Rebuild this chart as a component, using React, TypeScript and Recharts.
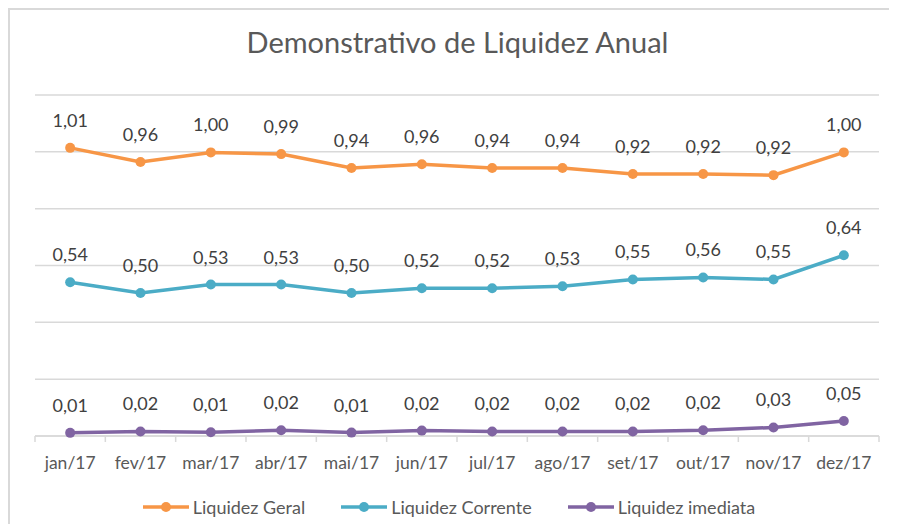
import React from 'react';
import { LineChart, Line, XAxis, YAxis, CartesianGrid, Legend, LabelList } from 'recharts';

const months = ['jan/17', 'fev/17', 'mar/17', 'abr/17', 'mai/17', 'jun/17', 'jul/17', 'ago/17', 'set/17', 'out/17', 'nov/17', 'dez/17'];
const liquidezGeral = [1.014, 0.964, 0.998, 0.992, 0.943, 0.956, 0.943, 0.943, 0.922, 0.922, 0.918, 0.998];
const liquidezCorrente = [0.541, 0.503, 0.533, 0.533, 0.503, 0.52, 0.52, 0.527, 0.551, 0.558, 0.551, 0.636];
const liquidezImediata = [0.011, 0.016, 0.013, 0.02, 0.012, 0.019, 0.016, 0.016, 0.016, 0.02, 0.03, 0.053];
const yTicks = [0, 0.2, 0.4, 0.6, 0.8, 1.0, 1.2];

const seriesInfo = [
  { key: 'geral', name: 'Liquidez Geral', color: '#F79646' },
  { key: 'corrente', name: 'Liquidez Corrente', color: '#4BACC6' },
  { key: 'imediata', name: 'Liquidez imediata', color: '#8064A2' },
];

const data = months.map((m, i) => ({
  month: m,
  geral: liquidezGeral[i],
  corrente: liquidezCorrente[i],
  imediata: liquidezImediata[i],
}));

const W = 887;
const H = 514;
const PLOT_RIGHT = 869;
const M = { top: 85, right: W - PLOT_RIGHT, left: 25, bottom: 2 };
const BAND = (PLOT_RIGHT - M.left) / months.length;
const FONT = 'Lato, "Open Sans", sans-serif';
const TEXT = '#595959';

const fmt = (v: any) => Number(v).toFixed(2).replace('.', ',');

const Tick = (props: any) => {
  const { x, y, payload, index } = props;
  const isLast = index === months.length - 1;
  return (
    <g>
      <line x1={x - BAND / 2} y1={y} x2={x - BAND / 2} y2={y + 6} stroke="#d9d9d9" strokeWidth={1.5} />
      {isLast && <line x1={x + BAND / 2} y1={y} x2={x + BAND / 2} y2={y + 6} stroke="#d9d9d9" strokeWidth={1.5} />}
      <text x={x} y={y + 26} textAnchor="middle" dominantBaseline="central" fill={TEXT} fontSize={17.5} fontFamily={FONT}>
        {payload.value}
      </text>
    </g>
  );
};

const LegendContent = () => (
  <div style={{ height: 30, display: 'flex', justifyContent: 'center', alignItems: 'center', gap: 36, fontFamily: FONT, fontSize: 18, color: TEXT, paddingRight: 16 }}>
    {seriesInfo.map((s) => (
      <div key={s.key} style={{ display: 'flex', alignItems: 'center' }}>
        <svg width={46} height={14} style={{ marginRight: 4 }}>
          <line x1={0} y1={7} x2={46} y2={7} stroke={s.color} strokeWidth={3.5} />
          <circle cx={23} cy={7} r={5} fill={s.color} />
        </svg>
        <span>{s.name}</span>
      </div>
    ))}
  </div>
);

export default function App() {
  return (
    <div>
      <style>{'html, body { overflow: hidden; }'}</style>
      <div style={{ position: 'relative', width: W, height: H, borderTop: '2px solid #d9d9d9', borderLeft: '2px solid #d9d9d9', background: '#fff' }}>
        <div style={{ position: 'absolute', left: 0, width: W + 8, top: 14, textAlign: 'center', fontFamily: FONT, fontSize: 29, color: TEXT }}>
          Demonstrativo de Liquidez Anual
        </div>
        <LineChart width={W} height={H} data={data} margin={M}>
          <CartesianGrid horizontal vertical={false} stroke="#d9d9d9" strokeWidth={1.5} />
          <XAxis dataKey="month" padding={{ left: BAND / 2, right: BAND / 2 }} axisLine={{ stroke: '#d9d9d9', strokeWidth: 1.5 }} tickLine={false} tickSize={0} tickMargin={0} height={56} tick={<Tick />} interval={0} />
          <YAxis hide domain={[0, 1.2]} ticks={yTicks} />
          <Legend verticalAlign="bottom" content={<LegendContent />} />
          {seriesInfo.map((s) => (
            <Line key={s.key} type="linear" dataKey={s.key} name={s.name} stroke={s.color} strokeWidth={3.5} dot={{ r: 5, fill: s.color, stroke: s.color, strokeWidth: 0 }} activeDot={false} isAnimationActive={false}>
              <LabelList dataKey={s.key} position="top" offset={21} formatter={fmt} fill="#404040" fontSize={18} fontFamily={FONT} />
            </Line>
          ))}
        </LineChart>
      </div>
    </div>
  );
}
